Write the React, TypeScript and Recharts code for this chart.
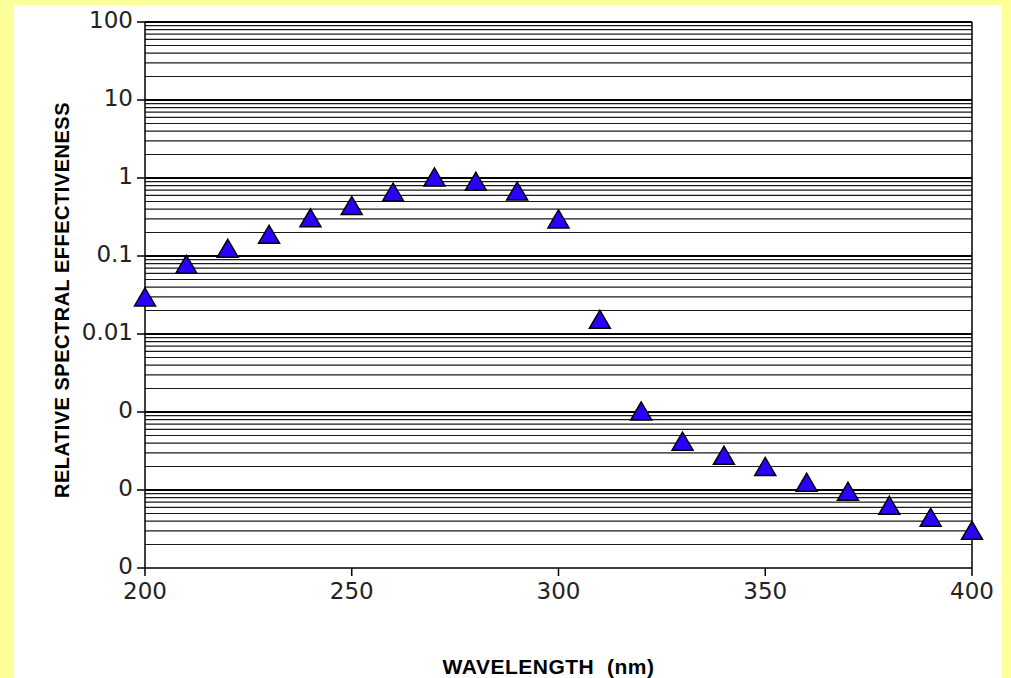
import React from 'react';
import { ScatterChart, Scatter, XAxis, YAxis, ReferenceLine, Label } from 'recharts';

const wavelengths = [200, 210, 220, 230, 240, 250, 260, 270, 280, 290, 300, 310, 320, 330, 340, 350, 360, 370, 380, 390, 400];
const effectiveness = [
  0.029, 0.076, 0.122, 0.184, 0.3, 0.43, 0.64, 1.0, 0.88, 0.66, 0.29,
  0.015, 0.001, 0.00041, 0.00027, 0.000195, 0.000122, 0.0000935, 0.0000617, 0.0000434, 0.0000295,
];

const xTicks = [200, 250, 300, 350, 400];
const yTicks = [100, 10, 1, 0.1, 0.01, 0.001, 0.0001, 0.00001];
const yTickLabels = ['100', '10', '1', '0.1', '0.01', '0', '0', '0'];

const decades = [0.00001, 0.0001, 0.001, 0.01, 0.1, 1, 10];
const minorSteps = [2, 3, 4, 5, 6, 7, 8, 9];
const majorLines = [0.0001, 0.001, 0.01, 0.1, 1, 10, 100];

const data = wavelengths.map((wl, i) => ({ wl, value: effectiveness[i] }));
const minorLines = decades.flatMap(d => minorSteps.map(m => m * d));

const TICK_FONT = { fontFamily: 'DejaVu Sans', fontSize: 23, fill: '#222' };
const LABEL_FONT = 'Liberation Sans';

const Triangle = (props: any) => {
  const { cx, cy } = props;
  if (cx == null || cy == null) return null;
  return (
    <polygon
      points={`${cx},${cy - 10} ${cx - 10.5},${cy + 8} ${cx + 10.5},${cy + 8}`}
      fill="#2a00ff"
      stroke="#000"
      strokeWidth={1.5}
    />
  );
};

const YTitle = ({ viewBox }: any) => {
  const { y, height } = viewBox;
  const cy = y + height / 2 + 5;
  return (
    <text
      x={62}
      y={cy}
      transform={`rotate(-90, 62, ${cy})`}
      textAnchor="middle"
      dominantBaseline="central"
      fontFamily={LABEL_FONT}
      fontWeight="bold"
      fontSize={20}
      letterSpacing={0.5}
      fill="#000"
    >
      RELATIVE SPECTRAL EFFECTIVENESS
    </text>
  );
};

const XTitle = ({ viewBox }: any) => {
  const { x, width } = viewBox;
  return (
    <text
      x={x + width / 2 - 10}
      y={666}
      textAnchor="middle"
      dominantBaseline="central"
      fontFamily={LABEL_FONT}
      fontWeight="bold"
      fontSize={21}
      letterSpacing={0.5}
      fill="#000"
      style={{ whiteSpace: 'pre' }}
    >
      {'WAVELENGTH  (nm)'}
    </text>
  );
};

export default function App() {
  return (
    <div style={{ position: 'fixed', left: 0, top: 0, width: 1011, height: 678, background: '#ffff99' }}>
      <div style={{ position: 'absolute', left: 14, top: 5, width: 988, height: 673, background: '#fff' }} />
      <div style={{ position: 'absolute', left: 0, top: 0 }}>
        <ScatterChart width={1011} height={678} margin={{ top: 22, right: 39, left: 85, bottom: 70 }}>
          <XAxis
            type="number"
            dataKey="wl"
            domain={[200, 400]}
            ticks={xTicks}
            tickSize={8}
            tickMargin={7}
            height={40}
            axisLine={{ stroke: '#000', strokeWidth: 1.5 }}
            tickLine={{ stroke: '#000', strokeWidth: 1.5 }}
            tick={TICK_FONT}
          >
            <Label content={<XTitle />} />
          </XAxis>
          <YAxis
            type="number"
            dataKey="value"
            scale="log"
            domain={[0.00001, 100]}
            allowDataOverflow
            ticks={yTicks}
            tickFormatter={(v: number) => yTickLabels[yTicks.indexOf(v)] ?? ''}
            tickSize={8}
            tickMargin={4}
            width={60}
            axisLine={{ stroke: '#000', strokeWidth: 1.5 }}
            tickLine={{ stroke: '#000', strokeWidth: 1.5 }}
            tick={{ ...TICK_FONT, dy: -2 }}
            interval={0}
          >
            <Label content={<YTitle />} />
          </YAxis>
          {minorLines.map(v => (
            <ReferenceLine key={`m-${v}`} y={v} stroke="#1a1a1a" strokeWidth={1.2} />
          ))}
          {majorLines.map(v => (
            <ReferenceLine key={`M-${v}`} y={v} stroke="#000" strokeWidth={2} />
          ))}
          <ReferenceLine x={400} stroke="#000" strokeWidth={1.5} />
          <Scatter data={data} shape={<Triangle />} isAnimationActive={false} />
        </ScatterChart>
      </div>
    </div>
  );
}
